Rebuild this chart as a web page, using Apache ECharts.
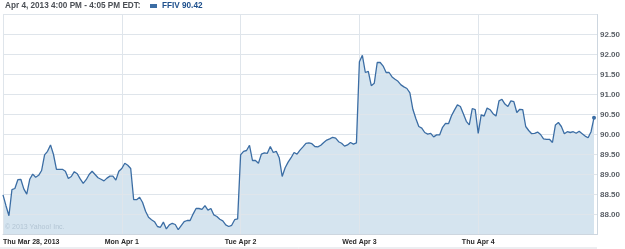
<!DOCTYPE html>
<html>
<head>
<meta charset="utf-8">
<script src="https://cdn.jsdelivr.net/npm/echarts@6/dist/echarts.min.js"></script>
<style>
html,body{margin:0;padding:0;background:#fff;}
#chart{width:625px;height:249px;}
</style>
</head>
<body>
<div id="chart"></div>
<script>
// ---- data ----
const ticker = 'FFIV';
const titleText = 'Apr 4, 2013 4:00 PM - 4:05 PM EDT:';
const dayLabels = ['Thu Mar 28, 2013', 'Mon Apr 1', 'Tue Apr 2', 'Wed Apr 3', 'Thu Apr 4'];
const yTicks = ['88.00','88.50','89.00','89.50','90.00','90.50','91.00','91.50','92.00','92.50'];
const day1 = [88.49,88.22,87.97,88.62,88.65,88.87,88.88,88.64,88.51,88.88,89.01,88.93,88.98,89.10,89.49,89.58,89.74,89.50,89.13,89.13,89.13,89.08,88.90,88.95,89.07,89.02,88.89,88.78,88.87,89.00,89.08,89.00,88.92,88.88,88.84,88.91,88.96,88.96,88.86,89.08];
const day2 = [89.15,89.28,89.23,89.15,88.37,88.37,88.43,88.30,88.08,87.93,87.87,87.82,87.70,87.68,87.81,87.64,87.74,87.78,87.75,87.62,87.72,87.82,87.85,87.85,88.01,88.15,88.15,88.13,88.22,88.11,88.15,87.99,87.95,87.88,87.84,87.74,87.70,87.73,87.87,87.89];
const day3 = [89.49,89.58,89.60,89.73,89.35,89.35,89.28,89.51,89.54,89.53,89.70,89.55,89.58,89.42,88.95,89.17,89.31,89.42,89.55,89.51,89.61,89.69,89.78,89.79,89.77,89.70,89.69,89.73,89.80,89.86,89.89,89.93,89.91,89.82,89.78,89.71,89.74,89.80,89.76,89.79];
const day4 = [91.82,91.98,91.55,91.58,91.22,91.28,91.80,91.80,91.71,91.55,91.55,91.44,91.38,91.33,91.24,91.19,91.15,91.04,90.63,90.40,90.20,90.16,90.05,90.01,90.03,89.94,89.99,89.99,90.18,90.28,90.27,90.47,90.61,90.74,90.70,90.52,90.33,90.24,90.65,90.62];
const day5 = [90.03,90.49,90.46,90.66,90.62,90.52,90.46,90.84,90.88,90.76,90.70,90.84,90.82,90.55,90.63,90.62,90.20,90.10,90.02,90.03,90.06,90.00,89.89,89.88,89.88,89.80,90.24,90.30,90.20,90.02,90.07,90.05,90.07,90.03,90.08,90.02,89.96,89.92,90.07,90.42];

// ---- build ----
const days = [day1, day2, day3, day4, day5];
const perDay = day1.length;
const values = [];
const categories = [];
days.forEach((d, di) => {
  d.forEach((v, k) => {
    values.push(v);
    const name = dayLabels[di] + '|' + k;
    if (di === 0 && k === 0) categories.push({ value: name, textStyle: { align: 'left' } });
    else categories.push(name);
  });
});
categories.push('end|0'); // trailing slot to the right edge
const lastIdx = values.length - 1;
const lastVal = values[lastIdx];

const chart = echarts.init(document.getElementById('chart'), null, { renderer: 'canvas' });
const FONT = '"Liberation Sans", Arial, sans-serif';
const gridColor = '#dfe5eb';
const axisColor = '#cdd6df';

chart.setOption({
  animation: false,
  backgroundColor: '#ffffff',
  title: {
    text: titleText,
    left: 5, top: 2, padding: 0,
    textStyle: { fontFamily: FONT, fontSize: 8.2, fontWeight: 'bold', color: '#4b4f55' }
  },
  legend: {
    data: [ticker],
    left: 150, top: 2, padding: 0,
    icon: 'rect', itemWidth: 7, itemHeight: 4,
    formatter: () => ticker + ' ' + lastVal.toFixed(2),
    textStyle: { fontFamily: FONT, fontSize: 8.2, fontWeight: 'bold', color: '#1d4f8c' }
  },
  grid: { left: 3, right: 28, top: 14.5, bottom: 14.5, containLabel: false },
  xAxis: {
    type: 'category',
    boundaryGap: false,
    data: categories,
    z: 2,
    axisLine: { show: true, lineStyle: { color: axisColor, width: 1 } },
    axisTick: { show: false },
    axisLabel: {
      interval: (i) => i % perDay === 0 && i < values.length,
      formatter: (v) => v.split('|')[0],
      margin: 4,
      fontFamily: FONT, fontSize: 7, fontWeight: 'bold', color: '#2a2a2a'
    },
    splitLine: {
      show: true,
      interval: (i) => i % perDay === 0 && i < values.length,
      lineStyle: { color: gridColor, width: 1 }
    }
  },
  yAxis: {
    type: 'value',
    position: 'right',
    min: 87.5, max: 93, interval: 0.5,
    z: 2,
    axisLine: { show: true, lineStyle: { color: axisColor, width: 1 } },
    axisTick: { show: false },
    axisLabel: {
      showMinLabel: false, showMaxLabel: false,
      formatter: (v) => { const s = v.toFixed(2); return yTicks.includes(s) ? s : ''; },
      margin: 3,
      fontFamily: FONT, fontSize: 8, fontWeight: 'bold', color: '#5a5f66'
    },
    splitLine: { show: true, lineStyle: { color: gridColor, width: 1 } }
  },
  series: [
    {
      name: 'area',
      type: 'line',
      data: values,
      z: 1,
      silent: true,
      showSymbol: false,
      lineStyle: { width: 0, opacity: 0 },
      areaStyle: { color: '#d5e4ef', opacity: 1, origin: 'start' }
    },
    {
      name: ticker,
      type: 'line',
      data: values,
      z: 3,
      showSymbol: true,
      showAllSymbol: true,
      symbol: 'circle',
      symbolSize: (v, p) => (p.dataIndex === lastIdx ? 4 : 0),
      itemStyle: { color: '#3b6da4' },
      lineStyle: { color: '#3b6da4', width: 1.3 }
    }
  ],
  graphic: [
    {
      type: 'text', left: 5, top: 224, z: 10,
      style: { text: '\u00a9 2013 Yahoo! Inc.', fontFamily: FONT, fontSize: 7, fill: '#b3c5d4' }
    },
    {
      type: 'line', z: 10,
      shape: { x1: 0, y1: 248, x2: 597, y2: 248 },
      style: { stroke: '#d9dde2', lineWidth: 1 }
    }
  ]
});
</script>
</body>
</html>
